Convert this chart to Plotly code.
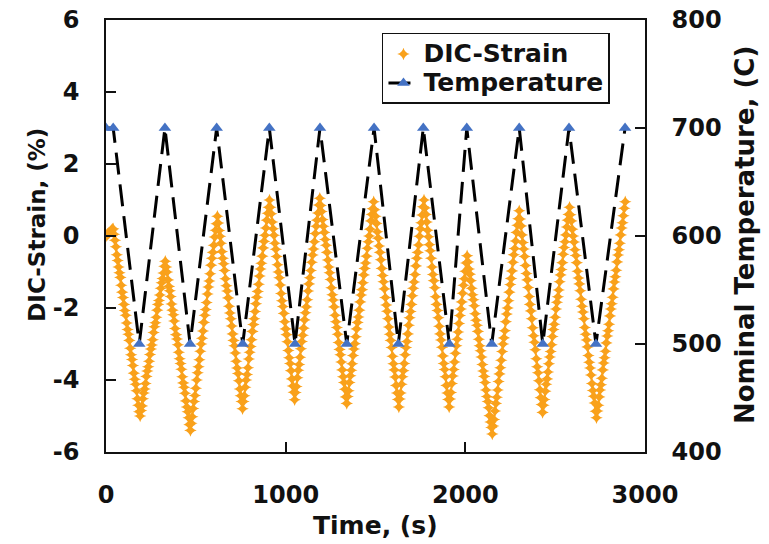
import plotly.graph_objects as go

# DIC strain readings, sampled every 5 s
time_s = [
    0, 5, 10, 15, 20, 25, 30, 35, 40, 45, 50, 55, 60, 65, 70, 75, 80, 85, 90, 95,
    100, 105, 110, 115, 120, 125, 130, 135, 140, 145, 150, 155, 160, 165, 170, 175, 180, 185, 190, 195,
    200, 205, 210, 215, 220, 225, 230, 235, 240, 245, 250, 255, 260, 265, 270, 275, 280, 285, 290, 295,
    300, 305, 310, 315, 320, 325, 330, 335, 340, 345, 350, 355, 360, 365, 370, 375, 380, 385, 390, 395,
    400, 405, 410, 415, 420, 425, 430, 435, 440, 445, 450, 455, 460, 465, 470, 475, 480, 485, 490, 495,
    500, 505, 510, 515, 520, 525, 530, 535, 540, 545, 550, 555, 560, 565, 570, 575, 580, 585, 590, 595,
    600, 605, 610, 615, 620, 625, 630, 635, 640, 645, 650, 655, 660, 665, 670, 675, 680, 685, 690, 695,
    700, 705, 710, 715, 720, 725, 730, 735, 740, 745, 750, 755, 760, 765, 770, 775, 780, 785, 790, 795,
    800, 805, 810, 815, 820, 825, 830, 835, 840, 845, 850, 855, 860, 865, 870, 875, 880, 885, 890, 895,
    900, 905, 910, 915, 920, 925, 930, 935, 940, 945, 950, 955, 960, 965, 970, 975, 980, 985, 990, 995,
    1000, 1005, 1010, 1015, 1020, 1025, 1030, 1035, 1040, 1045, 1050, 1055, 1060, 1065, 1070, 1075, 1080, 1085, 1090, 1095,
    1100, 1105, 1110, 1115, 1120, 1125, 1130, 1135, 1140, 1145, 1150, 1155, 1160, 1165, 1170, 1175, 1180, 1185, 1190, 1195,
    1200, 1205, 1210, 1215, 1220, 1225, 1230, 1235, 1240, 1245, 1250, 1255, 1260, 1265, 1270, 1275, 1280, 1285, 1290, 1295,
    1300, 1305, 1310, 1315, 1320, 1325, 1330, 1335, 1340, 1345, 1350, 1355, 1360, 1365, 1370, 1375, 1380, 1385, 1390, 1395,
    1400, 1405, 1410, 1415, 1420, 1425, 1430, 1435, 1440, 1445, 1450, 1455, 1460, 1465, 1470, 1475, 1480, 1485, 1490, 1495,
    1500, 1505, 1510, 1515, 1520, 1525, 1530, 1535, 1540, 1545, 1550, 1555, 1560, 1565, 1570, 1575, 1580, 1585, 1590, 1595,
    1600, 1605, 1610, 1615, 1620, 1625, 1630, 1635, 1640, 1645, 1650, 1655, 1660, 1665, 1670, 1675, 1680, 1685, 1690, 1695,
    1700, 1705, 1710, 1715, 1720, 1725, 1730, 1735, 1740, 1745, 1750, 1755, 1760, 1765, 1770, 1775, 1780, 1785, 1790, 1795,
    1800, 1805, 1810, 1815, 1820, 1825, 1830, 1835, 1840, 1845, 1850, 1855, 1860, 1865, 1870, 1875, 1880, 1885, 1890, 1895,
    1900, 1905, 1910, 1915, 1920, 1925, 1930, 1935, 1940, 1945, 1950, 1955, 1960, 1965, 1970, 1975, 1980, 1985, 1990, 1995,
    2000, 2005, 2010, 2015, 2020, 2025, 2030, 2035, 2040, 2045, 2050, 2055, 2060, 2065, 2070, 2075, 2080, 2085, 2090, 2095,
    2100, 2105, 2110, 2115, 2120, 2125, 2130, 2135, 2140, 2145, 2150, 2155, 2160, 2165, 2170, 2175, 2180, 2185, 2190, 2195,
    2200, 2205, 2210, 2215, 2220, 2225, 2230, 2235, 2240, 2245, 2250, 2255, 2260, 2265, 2270, 2275, 2280, 2285, 2290, 2295,
    2300, 2305, 2310, 2315, 2320, 2325, 2330, 2335, 2340, 2345, 2350, 2355, 2360, 2365, 2370, 2375, 2380, 2385, 2390, 2395,
    2400, 2405, 2410, 2415, 2420, 2425, 2430, 2435, 2440, 2445, 2450, 2455, 2460, 2465, 2470, 2475, 2480, 2485, 2490, 2495,
    2500, 2505, 2510, 2515, 2520, 2525, 2530, 2535, 2540, 2545, 2550, 2555, 2560, 2565, 2570, 2575, 2580, 2585, 2590, 2595,
    2600, 2605, 2610, 2615, 2620, 2625, 2630, 2635, 2640, 2645, 2650, 2655, 2660, 2665, 2670, 2675, 2680, 2685, 2690, 2695,
    2700, 2705, 2710, 2715, 2720, 2725, 2730, 2735, 2740, 2745, 2750, 2755, 2760, 2765, 2770, 2775, 2780, 2785, 2790, 2795,
    2800, 2805, 2810, 2815, 2820, 2825, 2830, 2835, 2840, 2845, 2850, 2855, 2860, 2865, 2870, 2875, 2880, 2885, 2890,
]

strain_pct = [
    # 0-40 s
    0.0, 0.02, 0.05, 0.08, 0.1, 0.13, 0.16, 0.19, 0.2,
    # cooling 1
    0.05, -0.12, -0.3, -0.52, -0.68, -0.86, -1.02, -1.15, -1.37, -1.56,
    -1.71, -1.9, -2.07, -2.2, -2.42, -2.6, -2.73, -2.9, -3.12, -3.3,
    -3.43, -3.6, -3.81, -3.98, -4.12, -4.3, -4.52, -4.7, -4.88, -5.0,
    # heating 1
    -4.85, -4.72, -4.52, -4.36, -4.25, -4.1, -3.9, -3.75, -3.63, -3.48,
    -3.29, -3.14, -3.03, -2.88, -2.68, -2.52, -2.41, -2.26, -2.06, -1.9,
    -1.79, -1.64, -1.45, -1.3, -1.18, -1.03, -0.84, -0.7,
    # cooling 2
    -0.86, -1.0, -1.22, -1.4, -1.52, -1.68, -1.89, -2.06, -2.19, -2.36,
    -2.57, -2.74, -2.86, -3.02, -3.23, -3.41, -3.54, -3.7, -3.91, -4.08,
    -4.2, -4.37, -4.58, -4.75, -4.88, -5.05, -5.24, -5.4,
    # heating 2
    -5.2, -5.02, -4.79, -4.6, -4.43, -4.23, -4.0, -3.8, -3.63, -3.44,
    -3.2, -3.0, -2.84, -2.64, -2.4, -2.2, -2.04, -1.85, -1.61, -1.42,
    -1.25, -1.05, -0.81, -0.62, -0.45, -0.26, -0.03, 0.16, 0.34, 0.55,
    # cooling 3
    0.36, 0.15, -0.01, -0.2, -0.43, -0.62, -0.77, -0.96, -1.19, -1.38,
    -1.53, -1.72, -1.95, -2.14, -2.3, -2.5, -2.72, -2.9, -3.05, -3.25,
    -3.48, -3.67, -3.82, -4.02, -4.25, -4.44, -4.6, -4.8,
    # heating 3
    -4.6, -4.44, -4.2, -4.0, -3.85, -3.66, -3.42, -3.23, -3.07, -2.88,
    -2.65, -2.46, -2.3, -2.1, -1.88, -1.7, -1.54, -1.34, -1.11, -0.92,
    -0.76, -0.56, -0.33, -0.15, 0.02, 0.22, 0.44, 0.63, 0.8, 1.0,
    # cooling 4
    0.8, 0.62, 0.39, 0.2, 0.02, -0.2, -0.37, -0.57, -0.8, -1.0,
    -1.16, -1.36, -1.6, -1.8, -1.96, -2.15, -2.38, -2.58, -2.74, -2.94,
    -3.18, -3.38, -3.54, -3.74, -3.97, -4.17, -4.34, -4.55,
    # heating 4
    -4.35, -4.18, -3.94, -3.73, -3.57, -3.37, -3.13, -2.93, -2.76, -2.56,
    -2.33, -2.13, -1.97, -1.77, -1.53, -1.33, -1.16, -0.96, -0.73, -0.53,
    -0.36, -0.16, 0.07, 0.27, 0.44, 0.64, 0.86, 1.05,
    # cooling 5
    0.85, 0.68, 0.46, 0.27, 0.1, -0.1, -0.26, -0.45, -0.67, -0.86,
    -1.02, -1.21, -1.44, -1.63, -1.78, -1.97, -2.2, -2.38, -2.54, -2.73,
    -2.96, -3.15, -3.3, -3.5, -3.72, -3.91, -4.07, -4.26, -4.47, -4.65,
    # heating 5
    -4.46, -4.3, -4.07, -3.88, -3.73, -3.55, -3.32, -3.14, -2.99, -2.8,
    -2.58, -2.4, -2.25, -2.06, -1.83, -1.64, -1.49, -1.3, -1.08, -0.9,
    -0.75, -0.56, -0.34, -0.16, 0.0, 0.19, 0.42, 0.6, 0.76, 0.95,
    # cooling 6
    0.73, 0.55, 0.35, 0.12, -0.06, -0.28, -0.45, -0.66, -0.9, -1.1,
    -1.27, -1.47, -1.71, -1.92, -2.09, -2.3, -2.53, -2.73, -2.9, -3.1,
    -3.34, -3.55, -3.72, -3.92, -4.15, -4.36, -4.54, -4.75,
    # heating 6
    -4.53, -4.36, -4.12, -3.91, -3.74, -3.54, -3.3, -3.1, -2.93, -2.72,
    -2.48, -2.27, -2.1, -1.9, -1.66, -1.45, -1.28, -1.07, -0.83, -0.62,
    -0.45, -0.25, -0.01, 0.2, 0.37, 0.58, 0.81, 1.0,
    # cooling 7
    0.78, 0.6, 0.39, 0.16, -0.02, -0.24, -0.41, -0.62, -0.86, -1.07,
    -1.24, -1.44, -1.69, -1.9, -2.07, -2.27, -2.51, -2.72, -2.89, -3.09,
    -3.33, -3.54, -3.71, -3.91, -4.15, -4.36, -4.54, -4.75,
    # heating 7 (short)
    -4.53, -4.35, -4.1, -3.89, -3.71, -3.5, -3.26, -3.05, -2.87, -2.67,
    -2.43, -2.21, -2.03, -1.83, -1.59, -1.37, -1.19, -0.98, -0.75, -0.55,
    # cooling 8
    -0.72, -0.92, -1.06, -1.24, -1.45, -1.63, -1.77, -1.94, -2.16, -2.34,
    -2.48, -2.65, -2.87, -3.05, -3.19, -3.36, -3.57, -3.75, -3.9, -4.07,
    -4.28, -4.46, -4.6, -4.77, -4.99, -5.17, -5.32, -5.5,
    # heating 8
    -5.28, -5.1, -4.86, -4.65, -4.48, -4.28, -4.04, -3.83, -3.66, -3.45,
    -3.21, -3.0, -2.83, -2.63, -2.38, -2.17, -2.0, -1.8, -1.56, -1.35,
    -1.18, -0.97, -0.73, -0.52, -0.35, -0.14, 0.1, 0.3, 0.48, 0.7,
    # cooling 9
    0.47, 0.28, 0.03, -0.18, -0.36, -0.57, -0.82, -1.04, -1.22, -1.43,
    -1.68, -1.9, -2.08, -2.3, -2.55, -2.77, -2.95, -3.16, -3.41, -3.63,
    -3.8, -4.02, -4.27, -4.49, -4.68, -4.9,
    # heating 9
    -4.7, -4.54, -4.31, -4.12, -3.97, -3.78, -3.55, -3.36, -3.21, -3.02,
    -2.79, -2.6, -2.45, -2.26, -2.03, -1.84, -1.69, -1.5, -1.27, -1.08,
    -0.93, -0.74, -0.51, -0.32, -0.16, 0.03, 0.25, 0.44, 0.6, 0.8,
    # cooling 10
    0.59, 0.42, 0.19, 0.0, -0.17, -0.38, -0.54, -0.74, -0.98, -1.17,
    -1.33, -1.52, -1.76, -1.95, -2.11, -2.3, -2.54, -2.73, -2.89, -3.08,
    -3.32, -3.51, -3.67, -3.86, -4.1, -4.29, -4.45, -4.64, -4.87, -5.05,
    # heating 10
    -4.86, -4.7, -4.47, -4.28, -4.13, -3.95, -3.72, -3.53, -3.38, -3.2,
    -2.97, -2.78, -2.63, -2.45, -2.22, -2.03, -1.88, -1.7, -1.47, -1.28,
    -1.13, -0.95, -0.72, -0.53, -0.38, -0.2, 0.03, 0.22, 0.37, 0.56,
    0.77, 0.95,
]

# Nominal furnace temperature set points
temp_time_s = [0, 40, 185, 328, 468, 616, 761, 909, 1052, 1191, 1340,
               1492, 1627, 1766, 1911, 2008, 2147, 2300, 2431, 2577, 2727, 2889]
temp_c = [700, 700, 500, 700, 500, 700, 500, 700, 500, 700, 500,
          700, 500, 700, 500, 700, 500, 700, 500, 700, 500, 700]

assert len(time_s) == len(strain_pct), (len(time_s), len(strain_pct))

# Axis ticks and their labels (plain hyphen for negatives)
x_ticks = [0, 1000, 2000, 3000]
y_ticks = [-6, -4, -2, 0, 2, 4, 6]
y_tick_text = ["-6", "-4", "-2", "0", "2", "4", "6"]
y2_ticks = [400, 500, 600, 700, 800]

FONT = "DejaVu Sans"
INK = "#111111"


def legend_label(text):
    # larger glyphs inside a compact legend row
    return f'<span style="font-size:25px">{text}</span>'


fig = go.Figure()
fig.add_trace(go.Scatter(
    x=time_s, y=strain_pct, mode="markers", name=legend_label("DIC-Strain"),
    marker=dict(symbol="star-diamond", size=9, color="#F9A11B", line=dict(width=0)),
))
fig.add_trace(go.Scatter(
    x=temp_time_s, y=temp_c, mode="lines+markers", name=legend_label("Temperature"),
    yaxis="y2",
    line=dict(color="black", width=3, dash="22px,10px"),
    marker=dict(symbol="triangle-up", size=11, color="#4472C4"),
))

tick_font = dict(family=FONT, size=24, color=INK, weight="bold")
axis_common = dict(
    showgrid=False, zeroline=False, showline=True, linecolor=INK, linewidth=1.5,
    ticks="inside", ticklen=10, tickwidth=1.5, tickcolor=INK,
    tickfont=tick_font, automargin=False,
)

fig.update_layout(
    width=769, height=544,
    margin=dict(l=106, r=124, t=20, b=92),
    paper_bgcolor="white", plot_bgcolor="white",
    xaxis=dict(range=[0, 3000], tickvals=x_ticks, mirror=True,
               ticklabelstandoff=20, **axis_common),
    yaxis=dict(range=[-6, 6], tickvals=y_ticks, ticktext=y_tick_text, mirror=False,
               ticklabelstandoff=20, **axis_common),
    yaxis2=dict(range=[400, 800], tickvals=y2_ticks, overlaying="y", side="right",
                ticklabelstandoff=20, **axis_common),
    legend=dict(
        x=0.512, y=0.970, xanchor="left", yanchor="top",
        bgcolor="white", bordercolor=INK, borderwidth=1.5,
        font=dict(family=FONT, size=20, color=INK, weight="bold"),
        itemwidth=30, tracegroupgap=0,
    ),
    showlegend=True,
    annotations=[
        dict(text="Time, (s)", x=0.5, y=-0.169, xref="paper", yref="paper",
             xanchor="center", yanchor="middle", showarrow=False,
             font=dict(family=FONT, size=25, color=INK, weight="bold")),
        dict(text="DIC-Strain, (%)", x=-0.127, y=0.525, xref="paper", yref="paper",
             xanchor="center", yanchor="middle", textangle=-90, showarrow=False,
             font=dict(family=FONT, size=23, color=INK, weight="bold")),
        dict(text="Nominal Temperature, (C)", x=1.1855, y=0.502, xref="paper", yref="paper",
             xanchor="center", yanchor="middle", textangle=-90, showarrow=False,
             font=dict(family=FONT, size=26, color=INK, weight="bold")),
    ],
)

fig.write_html("out.html")
